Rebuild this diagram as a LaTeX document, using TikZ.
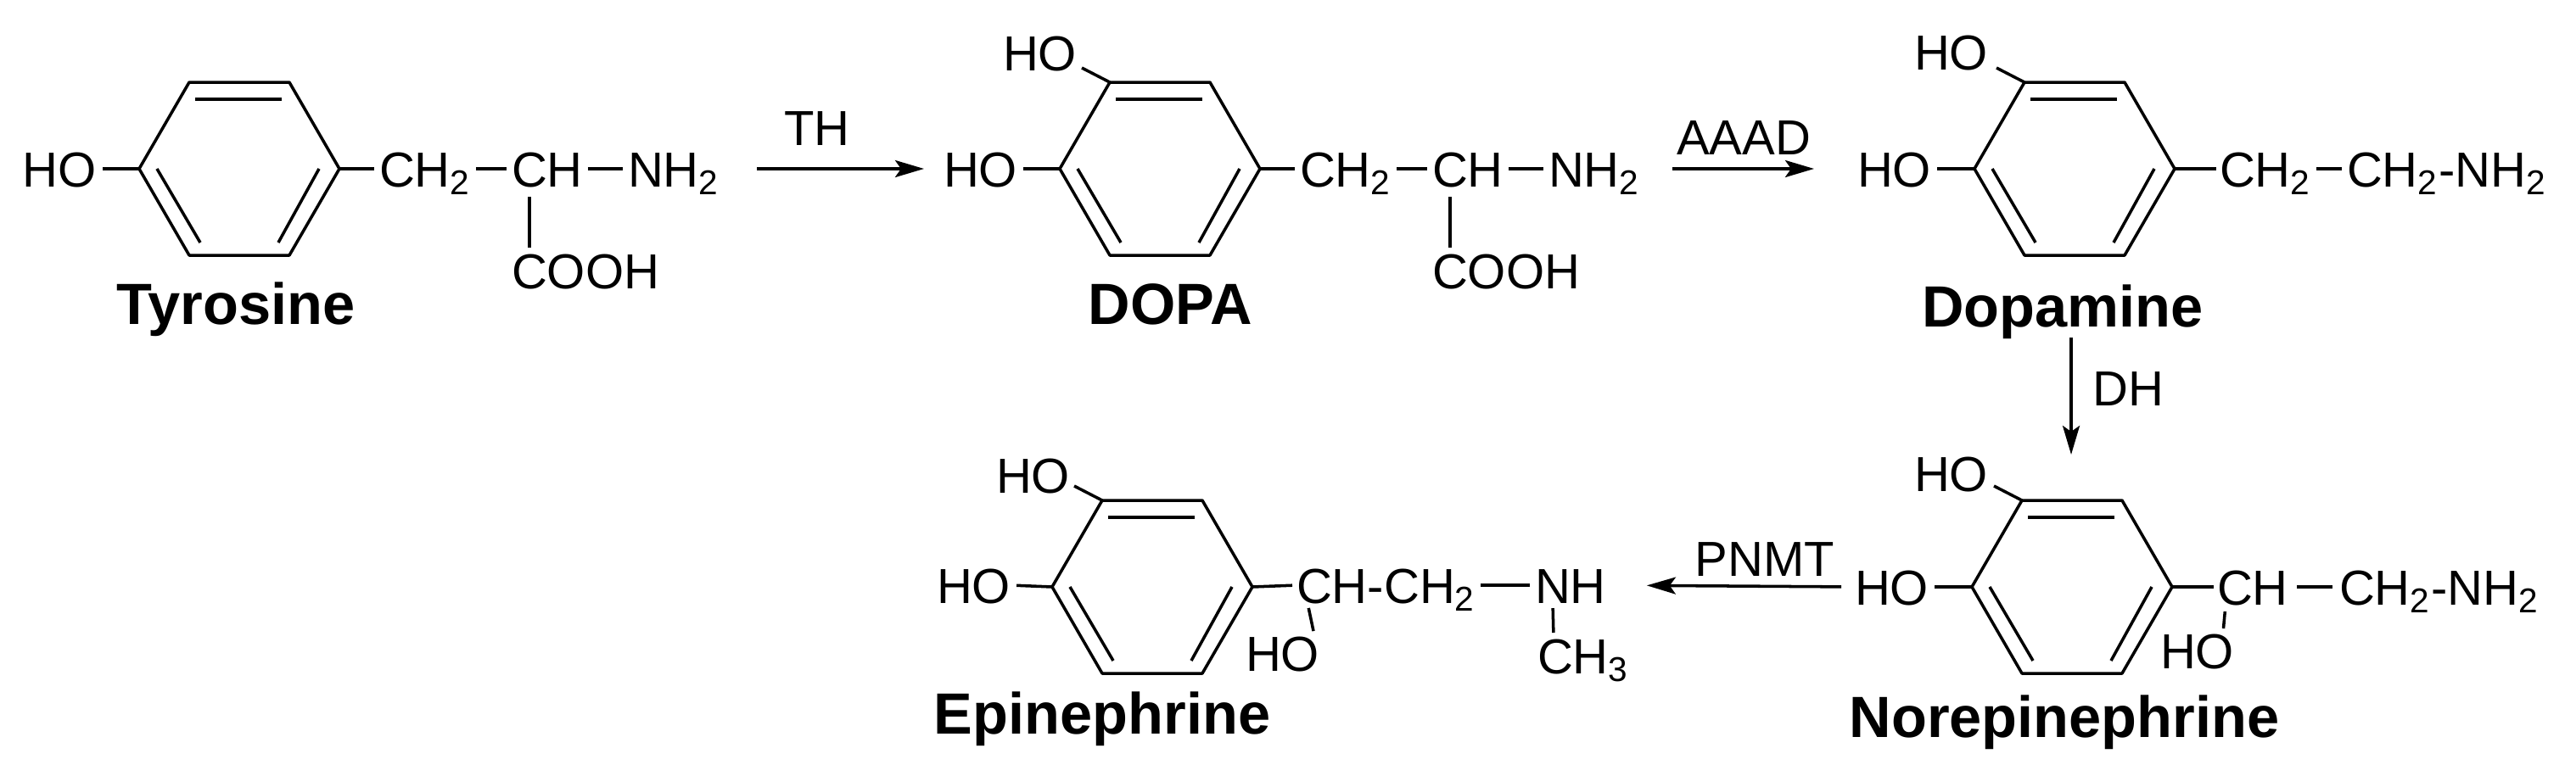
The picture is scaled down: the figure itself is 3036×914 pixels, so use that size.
\documentclass[tikz,border=0pt]{standalone}
\usepackage{fontspec}
\setmainfont{Liberation Sans}
\usetikzlibrary{arrows.meta}
\tikzset{
 bond/.style={line width=1pt,line join=round},
 atom/.style={inner sep=0pt,outer sep=0pt,anchor=west,text height=0.42cm,text depth=0pt,font=\fontsize{16.5pt}{18pt}\selectfont},
 lbl/.style={inner sep=0pt,anchor=base,font=\fontsize{19.5pt}{22pt}\selectfont\bfseries},
 enz/.style={inner sep=0pt,font=\fontsize{16.5pt}{18pt}\selectfont},
 rxn/.style={line width=1pt,-{Stealth[length=0.34cm,width=0.2cm,inset=0.07cm]}},
 gap/.style={shorten <=0.06cm,shorten >=0.06cm},
 ring/.pic={
  \coordinate (-tl) at (-59,-102); \coordinate (-tr) at (59,-102);
  \coordinate (-r) at (118,0); \coordinate (-br) at (59,102);
  \coordinate (-bl) at (-59,102); \coordinate (-l) at (-118,0);
  \coordinate (-o) at (-92,-119);
  \draw[bond] (-tl)--(-tr)--(-r)--(-br)--(-bl)--(-l)--cycle;
  \draw[bond] (-52,-82)--(50,-82);
  \draw[bond] (-97,0)--(-46,87);
  \draw[bond] (94,0)--(46,87);
 }
}
\begin{document}
\begin{tikzpicture}[x=0.01cm,y=-0.01cm]
\useasboundingbox (0,0) rectangle (3036,914);
% Tyrosine
\pic (t) at (282,199) {ring};
\node[atom] (tho) at (27,199) {HO};
\node[atom] (tch2) at (447,199) {CH\textsubscript{2}};
\node[atom] (tch) at (603,199) {CH};
\node[atom] (tnh2) at (740,199) {NH\textsubscript{2}};
\node[atom] (tcooh) at (603,319) {COOH};
\draw[bond,shorten <=0.07cm] (tho.east) -- (t-l);
\draw[bond,shorten >=0.06cm] (t-r) -- (tch2.west);
\draw[bond,gap] (tch2.east) -- (tch.west);
\draw[bond,gap] (tch.east) -- (tnh2.west);
\draw[bond,shorten <=0.12cm,shorten >=0.06cm] ([xshift=0.21cm]tch.south west) -- ([xshift=0.21cm]tcooh.north west);
\node[lbl] (tlab) at (278,382) {Tyrosine};
% DOPA
\pic (d) at (1367,199) {ring};
\node[atom] (dho2) at (1182,62) {HO};
\node[atom] (dho1) at (1112,199) {HO};
\node[atom] (dch2) at (1532,199) {CH\textsubscript{2}};
\node[atom] (dch) at (1688,199) {CH};
\node[atom] (dnh2) at (1825,199) {NH\textsubscript{2}};
\node[atom] (dcooh) at (1688,319) {COOH};
\draw[bond] (d-tl) -- (d-o);
\draw[bond,shorten <=0.07cm] (dho1.east) -- (d-l);
\draw[bond,shorten >=0.06cm] (d-r) -- (dch2.west);
\draw[bond,gap] (dch2.east) -- (dch.west);
\draw[bond,gap] (dch.east) -- (dnh2.west);
\draw[bond,shorten <=0.12cm,shorten >=0.06cm] ([xshift=0.21cm]dch.south west) -- ([xshift=0.21cm]dcooh.north west);
\node[lbl] (dlab) at (1379,382) {DOPA};
\draw[rxn,shorten <=0.44cm,shorten >=0.23cm] (tnh2.east) -- (dho1.west);
\node[enz] (th) at (963,152) {TH};
% Dopamine
\pic (m) at (2445,199) {ring};
\node[atom] (mho2) at (2256,61) {HO};
\node[atom] (mho1) at (2189,199) {HO};
\node[atom] (mch2a) at (2616,199) {CH\textsubscript{2}};
\node[atom] (mch2b) at (2766,199) {CH\textsubscript{2}-NH\textsubscript{2}};
\draw[bond] (m-tl) -- (m-o);
\draw[bond,shorten <=0.07cm] (mho1.east) -- (m-l);
\draw[bond,shorten >=0.04cm] (m-r) -- (mch2a.west);
\draw[bond,gap] (mch2a.east) -- (mch2b.west);
\node[lbl] (mlab) at (2431,385) {Dopamine};
\draw[rxn,shorten <=0.38cm,shorten >=0.51cm] (dnh2.east) -- (mho1.west);
\node[enz] (aaad) at (2055,163) {AAAD};
% DH arrow
\coordinate (dhs) at (2441,398);
\coordinate (dhe) at (2441,536);
\draw[rxn] (dhs) -- (dhe);
\node[enz,anchor=west] (dh) at (2466,459) {DH};
% Norepinephrine
\pic (n) at (2442,692) {ring};
\node[atom] (nho2) at (2256,558) {HO};
\node[atom] (nho1) at (2186,692) {HO};
\node[atom] (nch) at (2613,692) {CH};
\node[atom] (nrest) at (2757,692) {CH\textsubscript{2}-NH\textsubscript{2}};
\node[atom] (nho3) at (2546,767) {HO};
\draw[bond] (n-tl) -- (n-o);
\draw[bond,shorten <=0.07cm] (nho1.east) -- (n-l);
\draw[bond,shorten >=0.04cm] (n-r) -- (nch.west);
\draw[bond,shorten <=0.1cm,shorten >=0.08cm] (nch.east) -- (nrest.west);
\draw[bond,shorten <=0.08cm,shorten >=0.05cm] ([xshift=0.1cm]nch.south west) -- ([xshift=-0.13cm]nho3.north east);
\node[lbl] (nlab) at (2433,869) {Norepinephrine};
% Epinephrine
\pic (e) at (1358,692) {ring};
\node[atom] (eho2) at (1174,560) {HO};
\node[atom] (eho1) at (1104,690) {HO};
\node[atom] (ech) at (1528,690) {CH-CH\textsubscript{2}};
\node[atom] (enh) at (1809,690) {NH};
\node[atom] (ech3) at (1812,773) {CH\textsubscript{3}};
\node[atom] (eho3) at (1468,770) {HO};
\draw[bond] (e-tl) -- (e-o);
\draw[bond,shorten <=0.07cm] (eho1.east) -- (e-l);
\draw[bond,shorten >=0.05cm] (e-r) -- (ech.west);
\draw[bond,gap] (ech.east) -- (enh.west);
\draw[bond,shorten <=0.06cm,shorten >=0.06cm] ([xshift=0.21cm]enh.south west) -- ([xshift=0.19cm]ech3.north west);
\draw[bond,shorten <=0.06cm,shorten >=0.05cm] ([xshift=0.13cm]ech.south west) -- ([xshift=-0.06cm]eho3.north east);
\node[lbl] (elab) at (1299,865) {Epinephrine};
\draw[rxn,shorten <=0.16cm,shorten >=0.48cm] (nho1.west) -- (enh.east);
\node[enz] (pnmt) at (2080,660) {PNMT};
\end{tikzpicture}
\end{document}
